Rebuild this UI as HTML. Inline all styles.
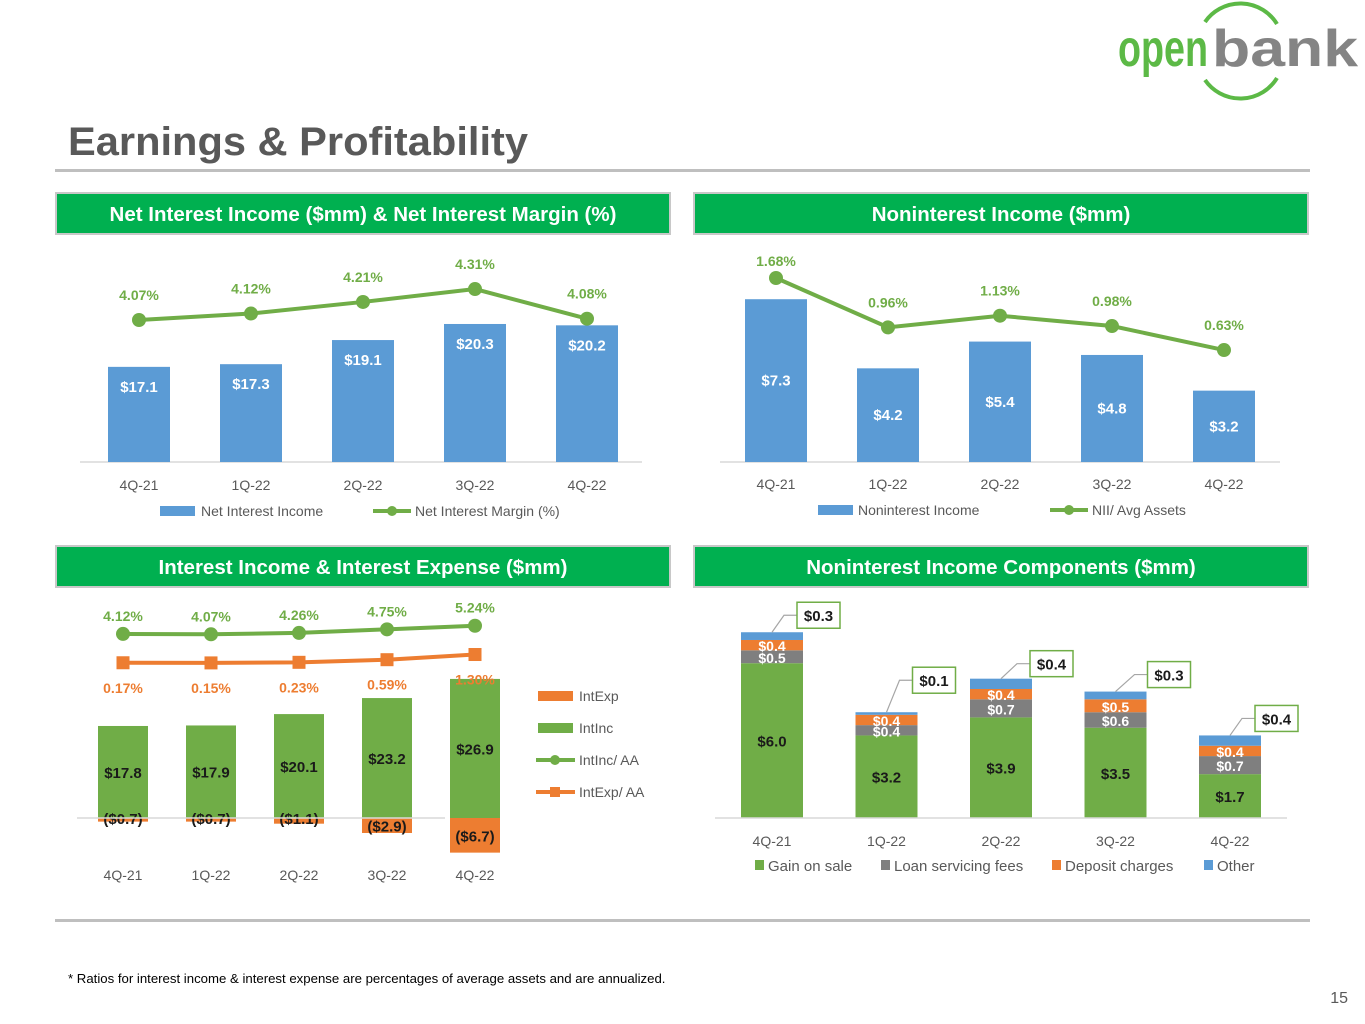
<!DOCTYPE html>
<html><head><meta charset="utf-8"><style>
body{margin:0;background:#fff;}
svg{display:block;font-family:"Liberation Sans",sans-serif;}
</style></head><body>
<svg id="page" width="1365" height="1024" viewBox="0 0 1365 1024" xmlns="http://www.w3.org/2000/svg">
<g>
<path d="M1205,22 A43,43 0 0 1 1277,24" fill="none" stroke="#5cb946" stroke-width="4"/>
<path d="M1205,80 A43,43 0 0 0 1277,78" fill="none" stroke="#5cb946" stroke-width="4"/>
<text x="1118" y="66" font-size="52" font-weight="bold" fill="#5cb946" textLength="90" lengthAdjust="spacingAndGlyphs">open</text>
<text x="1212" y="66" font-size="52" font-weight="bold" fill="#848484" textLength="146" lengthAdjust="spacingAndGlyphs">bank</text>
</g>
<text x="68" y="155" font-size="40" font-weight="bold" fill="#595959" textLength="460" lengthAdjust="spacingAndGlyphs">Earnings &amp; Profitability</text>
<rect x="55" y="169" width="1255" height="3" fill="#bfbfbf"/>
<rect x="55" y="919" width="1255" height="3" fill="#bfbfbf"/>
<text x="68" y="983" font-size="13.2" fill="#000">* Ratios for interest income &amp; interest expense are percentages of average assets and are annualized.</text>
<text x="1348" y="1003" font-size="16" fill="#595959" text-anchor="end">15</text>
<g id="headers"></g>
<g id="c1"></g><g id="c2"></g><g id="c3"></g><g id="c4"></g>
</svg>
<script>
const NS="http://www.w3.org/2000/svg";
const quarters=["4Q-21","1Q-22","2Q-22","3Q-22","4Q-22"];
const niiValues=[17.1,17.3,19.1,20.3,20.2];
const nimValues=[4.07,4.12,4.21,4.31,4.08];
const nonintValues=[7.3,4.2,5.4,4.8,3.2];
const niiAvgValues=[1.68,0.96,1.13,0.98,0.63];
const intIncValues=[17.8,17.9,20.1,23.2,26.9];
const intExpValues=[-0.7,-0.7,-1.1,-2.9,-6.7];
const intIncRatio=[4.12,4.07,4.26,4.75,5.24];
const intExpRatio=[0.17,0.15,0.23,0.59,1.30];
const gainOnSale=[6.0,3.2,3.9,3.5,1.7];
const loanServicing=[0.5,0.4,0.7,0.6,0.7];
const depositCharges=[0.4,0.4,0.4,0.5,0.4];
const otherIncome=[0.3,0.1,0.4,0.3,0.4];
const headerTitles=["Net Interest Income ($mm) & Net Interest Margin (%)","Noninterest Income ($mm)","Interest Income & Interest Expense ($mm)","Noninterest Income Components ($mm)"];

const GREEN="#70ad47",BLUE="#5b9bd5",ORANGE="#ed7d31",GRAY="#7f7f7f",AX="#d9d9d9",TX="#595959";
function el(p,tag,a,txt){const e=document.createElementNS(NS,tag);for(const k in a)e.setAttribute(k,a[k]);if(txt!==undefined)e.textContent=txt;p.appendChild(e);return e;}
function money(v){return v<0?"($"+Math.abs(v).toFixed(1)+")":"$"+v.toFixed(1);}

const H=document.getElementById('headers');
[[56,193],[694,193],[56,546],[694,546]].forEach((p,i)=>{
 const r=el(H,'rect',{x:p[0],y:p[1],width:614,height:41,fill:"#00b050",stroke:"#c8c8c8","stroke-width":2});
 
 
 const t=el(H,'text',{x:p[0]+307,y:p[1]+28,"font-size":20.5,"font-weight":"bold",fill:"#fff","text-anchor":"middle"},headerTitles[i]);
 
 
});

(function(){
 const g=document.getElementById('c1');
 const xs=i=>139+i*112, yb=v=>462-(v-10)*13.4, yl=v=>320-(v-4.07)*129;
 el(g,'line',{x1:80,x2:642,y1:462,y2:462,stroke:AX,"stroke-width":1.5});
 niiValues.forEach((v,i)=>{
  const b=el(g,'rect',{x:xs(i)-31,y:yb(v),width:62,height:462-yb(v),fill:BLUE});
  
  
  el(g,'text',{x:xs(i),y:yb(v)+25,"font-size":15,"font-weight":"bold",fill:"#fff","text-anchor":"middle"},money(v));
  el(g,'text',{x:xs(i),y:490,"font-size":14,fill:TX,"text-anchor":"middle"},quarters[i]);
 });
 el(g,'polyline',{points:nimValues.map((v,i)=>xs(i)+","+yl(v)).join(" "),fill:"none",stroke:GREEN,"stroke-width":4});
 nimValues.forEach((v,i)=>{
  const c=el(g,'circle',{cx:xs(i),cy:yl(v),r:7,fill:GREEN});
  
  
  el(g,'text',{x:xs(i),y:yl(v)-20,"font-size":14,"font-weight":"bold",fill:GREEN,"text-anchor":"middle"},v.toFixed(2)+"%");
 });
 el(g,'rect',{x:160,y:506,width:35,height:10,fill:BLUE});
 el(g,'text',{x:201,y:516,"font-size":14,fill:TX},"Net Interest Income");
 el(g,'line',{x1:373,x2:411,y1:511,y2:511,stroke:GREEN,"stroke-width":4});
 el(g,'circle',{cx:392,cy:511,r:5,fill:GREEN});
 el(g,'text',{x:415,y:516,"font-size":14,fill:TX},"Net Interest Margin (%)");
})();

(function(){
 const g=document.getElementById('c2');
 const xs=i=>776+i*112, yb=v=>462-v*22.3, yl=v=>278-(v-1.68)*68.6;
 el(g,'line',{x1:720,x2:1280,y1:462,y2:462,stroke:AX,"stroke-width":1.5});
 nonintValues.forEach((v,i)=>{
  const b=el(g,'rect',{x:xs(i)-31,y:yb(v),width:62,height:462-yb(v),fill:BLUE});
  
  
  el(g,'text',{x:xs(i),y:(yb(v)+462)/2+5,"font-size":15,"font-weight":"bold",fill:"#fff","text-anchor":"middle"},money(v));
  el(g,'text',{x:xs(i),y:489,"font-size":14,fill:TX,"text-anchor":"middle"},quarters[i]);
 });
 el(g,'polyline',{points:niiAvgValues.map((v,i)=>xs(i)+","+yl(v)).join(" "),fill:"none",stroke:GREEN,"stroke-width":4});
 niiAvgValues.forEach((v,i)=>{
  const c=el(g,'circle',{cx:xs(i),cy:yl(v),r:7,fill:GREEN});
  
  
  el(g,'text',{x:xs(i),y:Math.max(yl(v)-20,266),"font-size":14,"font-weight":"bold",fill:GREEN,"text-anchor":"middle"},v.toFixed(2)+"%");
 });
 el(g,'rect',{x:818,y:505,width:35,height:10,fill:BLUE});
 el(g,'text',{x:858,y:515,"font-size":14,fill:TX},"Noninterest Income");
 el(g,'line',{x1:1050,x2:1088,y1:510,y2:510,stroke:GREEN,"stroke-width":4});
 el(g,'circle',{cx:1069,cy:510,r:5,fill:GREEN});
 el(g,'text',{x:1092,y:515,"font-size":14,fill:TX},"NII/ Avg Assets");
})();

(function(){
 const g=document.getElementById('c3');
 const xs=i=>123+i*88, B=818, yb=v=>B-v*5.17, yl=v=>664-v*7.3;
 intIncValues.forEach((v,i)=>{
  const b=el(g,'rect',{x:xs(i)-25,y:yb(v),width:50,height:B-yb(v),fill:GREEN});
  
  
  el(g,'text',{x:xs(i),y:(yb(v)+B)/2+6,"font-size":15,"font-weight":"bold",fill:"#1a1a1a","text-anchor":"middle"},money(v));
 });
 intExpValues.forEach((v,i)=>{
  const b=el(g,'rect',{x:xs(i)-25,y:B,width:50,height:yb(v)-B,fill:ORANGE});
  
  
  const ty=Math.abs(v)<2?B+6:(B+yb(v))/2+6;
  el(g,'text',{x:xs(i),y:ty,"font-size":15,"font-weight":"bold",fill:"#1a1a1a","text-anchor":"middle"},money(v));
  el(g,'text',{x:xs(i),y:880,"font-size":14,fill:TX,"text-anchor":"middle"},quarters[i]);
 });
 el(g,'line',{x1:77,x2:445,y1:B,y2:B,stroke:AX,"stroke-width":1.5});
 el(g,'polyline',{points:intIncRatio.map((v,i)=>xs(i)+","+yl(v)).join(" "),fill:"none",stroke:GREEN,"stroke-width":4});
 intIncRatio.forEach((v,i)=>{
  const c=el(g,'circle',{cx:xs(i),cy:yl(v),r:7,fill:GREEN});
  
  
  el(g,'text',{x:xs(i),y:yl(v)-13,"font-size":14,"font-weight":"bold",fill:GREEN,"text-anchor":"middle"},v.toFixed(2)+"%");
 });
 el(g,'polyline',{points:intExpRatio.map((v,i)=>xs(i)+","+yl(v)).join(" "),fill:"none",stroke:ORANGE,"stroke-width":4});
 intExpRatio.forEach((v,i)=>{
  const c=el(g,'rect',{x:xs(i)-6.5,y:yl(v)-6.5,width:13,height:13,fill:ORANGE});
  
  
  el(g,'text',{x:xs(i),y:yl(v)+30,"font-size":14,"font-weight":"bold",fill:ORANGE,"text-anchor":"middle"},v.toFixed(2)+"%");
 });
 el(g,'rect',{x:538,y:691,width:35,height:10,fill:ORANGE});
 el(g,'text',{x:579,y:701,"font-size":14,fill:TX},"IntExp");
 el(g,'rect',{x:538,y:723,width:35,height:10,fill:GREEN});
 el(g,'text',{x:579,y:733,"font-size":14,fill:TX},"IntInc");
 el(g,'line',{x1:536,x2:575,y1:760,y2:760,stroke:GREEN,"stroke-width":4});
 el(g,'circle',{cx:555,cy:760,r:5,fill:GREEN});
 el(g,'text',{x:579,y:765,"font-size":14,fill:TX},"IntInc/ AA");
 el(g,'line',{x1:536,x2:575,y1:792,y2:792,stroke:ORANGE,"stroke-width":4});
 el(g,'rect',{x:550,y:787,width:10,height:10,fill:ORANGE});
 el(g,'text',{x:579,y:797,"font-size":14,fill:TX},"IntExp/ AA");
})();

(function(){
 const g=document.getElementById('c4');
 const xs=i=>772+i*114.5, B=818, s=25.8;
 const series=[[gainOnSale,GREEN,"gain-on-sale"],[loanServicing,GRAY,"loan-servicing"],[depositCharges,ORANGE,"deposit-charges"],[otherIncome,BLUE,"other"]];
 const boxOff=[[25,-30],[26,-45],[29,-28],[32,-30],[25,-30]];
 quarters.forEach((q,i)=>{
  let base=0;
  series.forEach((sr,k)=>{
   const v=sr[0][i], y0=B-base*s, y1=B-(base+v)*s;
   const r=el(g,'rect',{x:xs(i)-31,y:y1,width:62,height:y0-y1,fill:sr[1]});
   
   
   if(k===0) el(g,'text',{x:xs(i),y:(y0+y1)/2+6,"font-size":15,"font-weight":"bold",fill:"#1a1a1a","text-anchor":"middle"},money(v));
   else if(k<3) el(g,'text',{x:xs(i),y:(y0+y1)/2+6,"font-size":14,"font-weight":"bold",fill:"#fff","text-anchor":"middle"},money(v));
   base+=v;
  });
  const top=B-base*s, bx=xs(i)+boxOff[i][0], by=top+boxOff[i][1];
  el(g,'polyline',{points:xs(i)+","+top+" "+(bx-13)+","+(by+13)+" "+bx+","+(by+13),fill:"none",stroke:"#a6a6a6","stroke-width":1.2});
  const bxr=el(g,'rect',{x:bx,y:by,width:43,height:26,fill:"#fff",stroke:GREEN,"stroke-width":1.5});
  
  
  el(g,'text',{x:bx+21.5,y:by+19,"font-size":15,"font-weight":"bold",fill:"#1a1a1a","text-anchor":"middle"},money(otherIncome[i]));
  el(g,'text',{x:xs(i),y:846,"font-size":14,fill:TX,"text-anchor":"middle"},q);
 });
 el(g,'line',{x1:715,x2:1287,y1:B,y2:B,stroke:AX,"stroke-width":1.5});
 [[755,"Gain on sale",GREEN],[881,"Loan servicing fees",GRAY],[1052,"Deposit charges",ORANGE],[1204,"Other",BLUE]].forEach(l=>{
  el(g,'rect',{x:l[0],y:860,width:9,height:10,fill:l[2]});
  el(g,'text',{x:l[0]+13,y:871,"font-size":15,fill:TX},l[1]);
 });
})();
</script>
</body></html>
